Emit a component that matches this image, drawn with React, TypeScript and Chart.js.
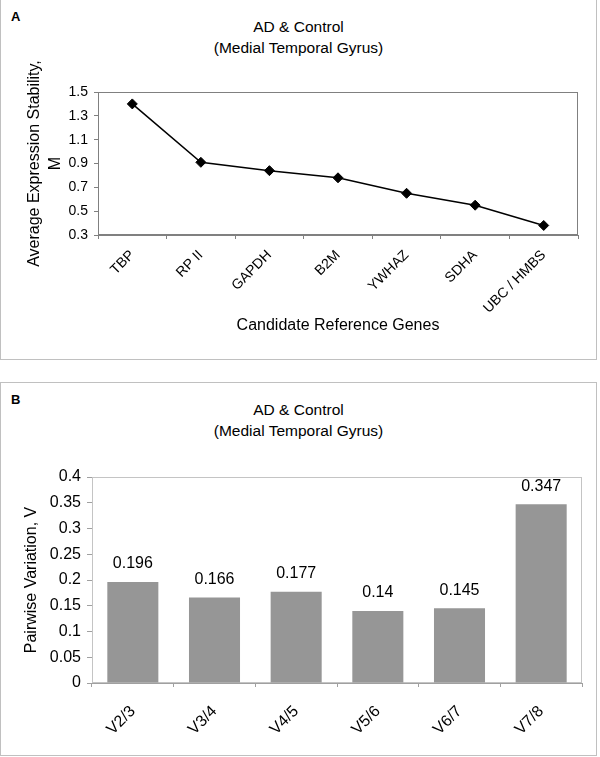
import { useEffect, useRef } from 'react';
import { Chart, registerables } from 'chart.js';

Chart.register(...registerables);

const genes = ['TBP', 'RP II', 'GAPDH', 'B2M', 'YWHAZ', 'SDHA', 'UBC / HMBS'];
const stabilityM = [1.4, 0.91, 0.84, 0.78, 0.65, 0.55, 0.38];

const pairs = ['V2/3', 'V3/4', 'V4/5', 'V5/6', 'V6/7', 'V7/8'];
const pairwiseV = [0.196, 0.166, 0.177, 0.14, 0.145, 0.347];

const titleLines = ['AD & Control', '(Medial Temporal Gyrus)'];

const FONT = "'Liberation Sans', Arial, sans-serif";

// box round the plot area (excel style plot frame)
const frame = (color: string) => ({
  id: 'frame',
  beforeDatasetsDraw(chart: any) {
    const { ctx, chartArea: a } = chart;
    ctx.save();
    ctx.strokeStyle = color;
    ctx.lineWidth = 1;
    ctx.strokeRect(Math.round(a.left) + 0.5, Math.round(a.top) + 0.5, Math.round(a.width) - 1, Math.round(a.height) - 1);
    ctx.restore();
  },
});

// value written above each bar
const barValues = {
  id: 'barValues',
  afterDatasetsDraw(chart: any) {
    const { ctx } = chart;
    const meta = chart.getDatasetMeta(0);
    const values = chart.data.datasets[0].data;
    ctx.save();
    ctx.font = `16px ${FONT}`;
    ctx.fillStyle = '#000';
    ctx.textAlign = 'center';
    ctx.textBaseline = 'middle';
    meta.data.forEach((bar: any, i: number) => {
      ctx.fillText(String(values[i]), bar.x, bar.y - 18);
    });
    ctx.restore();
  },
};

function StabilityChart() {
  const canvasRef = useRef<HTMLCanvasElement>(null);

  useEffect(() => {
    const el = canvasRef.current;
    if (!el) return;
    const chart = new Chart(el, {
      type: 'line',
      data: {
        labels: genes,
        datasets: [
          {
            data: stabilityM,
            borderColor: '#000',
            backgroundColor: '#000',
            borderWidth: 1.5,
            pointStyle: 'rectRot',
            pointRadius: 5,
            pointBorderWidth: 1,
            tension: 0,
          },
        ],
      },
      options: {
        responsive: true,
        maintainAspectRatio: false,
        animation: false,
        layout: { padding: { top: 92, right: 22, left: 0, bottom: 0 } },
        plugins: { legend: { display: false }, tooltip: { enabled: false } },
        scales: {
          x: {
            offset: true,
            grid: { offset: true, drawOnChartArea: false, tickLength: 4, color: '#808080' },
            border: { color: '#808080' },
            ticks: { minRotation: 45, maxRotation: 45, padding: 8, color: '#000', font: { family: FONT, size: 14 } },
            title: {
              display: true,
              text: 'Candidate Reference Genes',
              color: '#000',
              font: { family: FONT, size: 16 },
              padding: { top: 0, bottom: 25 },
            },
            afterFit: (s: any) => {
              s.height = 125;
            },
          },
          y: {
            min: 0.3,
            max: 1.5,
            ticks: {
              stepSize: 0.2,
              padding: 6,
              color: '#000',
              font: { family: FONT, size: 14 },
              callback: (v: any) => Number(v).toFixed(1),
            },
            grid: { drawOnChartArea: false, tickLength: 4, color: '#808080' },
            border: { color: '#808080' },
            title: {
              display: true,
              text: ['Average Expression Stability,', 'M'],
              color: '#000',
              font: { family: FONT, size: 16, lineHeight: 1.3 },
              padding: { top: 24, bottom: 0 },
            },
            afterFit: (s: any) => {
              s.width = 98;
            },
          },
        },
      },
      plugins: [frame('#808080')],
    });
    return () => chart.destroy();
  }, []);

  return <canvas ref={canvasRef} />;
}

function PairwiseChart() {
  const canvasRef = useRef<HTMLCanvasElement>(null);

  useEffect(() => {
    const el = canvasRef.current;
    if (!el) return;
    const chart = new Chart(el, {
      type: 'bar',
      data: {
        labels: pairs,
        datasets: [
          {
            data: pairwiseV,
            backgroundColor: '#969696',
            borderWidth: 0,
            categoryPercentage: 1,
            barPercentage: 0.625,
          },
        ],
      },
      options: {
        responsive: true,
        maintainAspectRatio: false,
        animation: false,
        layout: { padding: { top: 94, right: 18, left: 0, bottom: 0 } },
        plugins: { legend: { display: false }, tooltip: { enabled: false } },
        scales: {
          x: {
            grid: { offset: true, drawOnChartArea: false, tickLength: 4, color: '#a0a0a0' },
            border: { color: '#a0a0a0' },
            ticks: { minRotation: 45, maxRotation: 45, padding: 15, color: '#000', font: { family: FONT, size: 16 } },
            afterFit: (s: any) => {
              s.height = 72;
            },
          },
          y: {
            min: 0,
            max: 0.4,
            ticks: {
              stepSize: 0.05,
              padding: 6,
              color: '#000',
              font: { family: FONT, size: 16 },
              callback: (v: any) => String(+Number(v).toFixed(2)),
            },
            grid: { drawOnChartArea: false, tickLength: 5, color: '#a0a0a0' },
            border: { color: '#a0a0a0' },
            title: {
              display: true,
              text: 'Pairwise Variation, V',
              color: '#000',
              font: { family: FONT, size: 16 },
              padding: { top: 22, bottom: 0 },
            },
            afterFit: (s: any) => {
              s.width = 92;
            },
          },
        },
      },
      plugins: [frame('#c4c4c4'), barValues],
    });
    return () => chart.destroy();
  }, []);

  return <canvas ref={canvasRef} />;
}

function Title({ top }: { top: number }) {
  return (
    <div
      style={{
        position: 'absolute',
        left: 0,
        top,
        width: 597,
        textAlign: 'center',
        fontFamily: FONT,
        fontSize: 15.5,
        lineHeight: '21px',
        color: '#000',
      }}
    >
      {titleLines.map((t) => (
        <div key={t}>{t}</div>
      ))}
    </div>
  );
}

function Letter({ text, top }: { text: string; top: number }) {
  return (
    <div
      style={{
        position: 'absolute',
        left: 11,
        top,
        fontFamily: FONT,
        fontWeight: 'bold',
        fontSize: 13,
        lineHeight: '14px',
        color: '#000',
      }}
    >
      {text}
    </div>
  );
}

export default function App() {
  return (
    <div style={{ position: 'absolute', left: 0, top: 0, width: 600, height: 757, background: '#fff', overflow: 'hidden' }}>
      <div style={{ position: 'absolute', left: 0, top: -1, width: 595, height: 359, border: '1px solid #c0c0c0' }} />
      <div style={{ position: 'absolute', left: 0, top: 382, width: 595, height: 372, border: '1px solid #c0c0c0' }} />
      <Letter text="A" top={10} />
      <Title top={15.5} />
      <div style={{ position: 'absolute', left: 0, top: 0, width: 600, height: 360 }}>
        <StabilityChart />
      </div>
      <Letter text="B" top={392.5} />
      <Title top={398.5} />
      <div style={{ position: 'absolute', left: 0, top: 383, width: 600, height: 372 }}>
        <PairwiseChart />
      </div>
    </div>
  );
}
